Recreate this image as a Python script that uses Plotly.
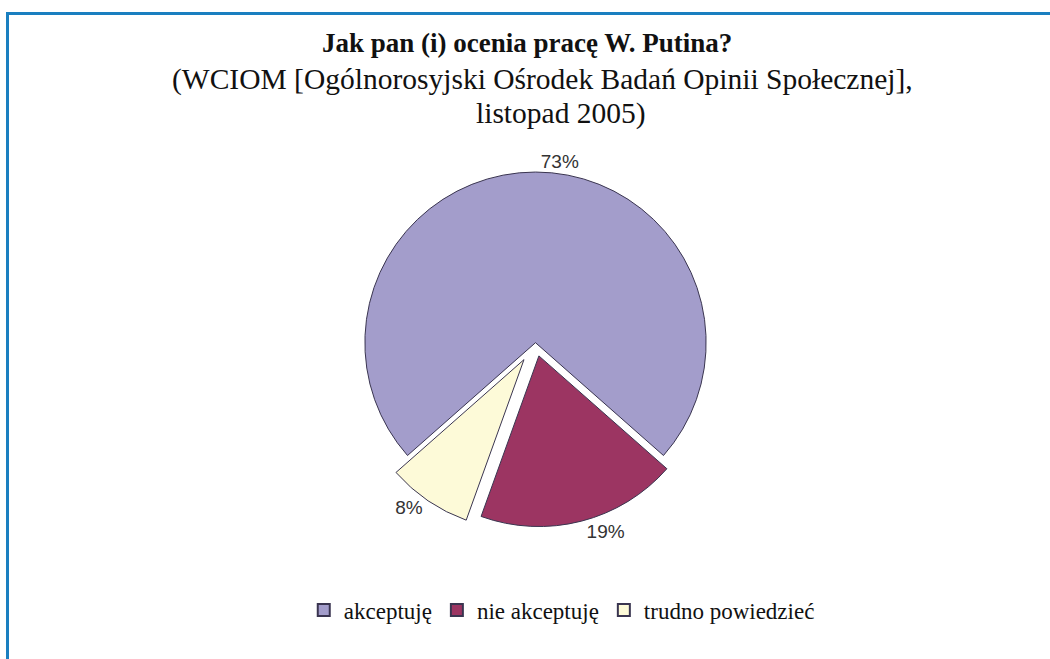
import plotly.graph_objects as go

categories = ["akceptuję", "nie akceptuję", "trudno powiedzieć"]
values = [73, 19, 8]
labels_text = ["73%", "19%", "8%"]
colors = ["#a39dcb", "#9c3562", "#fdfad8"]
pulls = [0, 0.08, 0.12]

fig = go.Figure()
fig.add_trace(go.Pie(
    labels=categories,
    values=values,
    text=labels_text,
    texttemplate="%{text}",
    textinfo="text",
    textposition="outside",
    textfont=dict(family="Liberation Sans, Arial, sans-serif", size=19, color="#333333"),
    marker=dict(colors=colors, line=dict(color="#3a3550", width=1)),
    sort=False,
    direction="clockwise",
    rotation=-131.4,
    pull=pulls,
    domain=dict(x=[0.15, 0.87], y=[0.19, 0.77]),
    hoverinfo="label+percent",
))

serif = "Liberation Serif, Times New Roman, serif"
fig.update_layout(
    width=1050, height=659,
    margin=dict(l=0, r=0, t=0, b=0, autoexpand=False),
    paper_bgcolor="white",
    plot_bgcolor="white",
    showlegend=True,
    legend=dict(
        orientation="h", x=0.535, xanchor="center", y=1 - 610/659, yanchor="middle",
        font=dict(family=serif, size=23, color="#111111"),
        itemsizing="constant",
        traceorder="normal",
    ),
    annotations=[
        dict(text="<b>Jak pan (i) ocenia pracę W. Putina?</b>", x=0.502, y=1 - 43/659,
             xref="paper", yref="paper", showarrow=False, xanchor="center", yanchor="middle",
             font=dict(family=serif, size=27, color="#111111")),
        dict(text="(WCIOM [Ogólnorosyjski Ośrodek Badań Opinii Społecznej],", x=0.517, y=1 - 80/659,
             xref="paper", yref="paper", showarrow=False, xanchor="center", yanchor="middle",
             font=dict(family=serif, size=29.5, color="#111111")),
        dict(text="listopad 2005)", x=0.534, y=1 - 113/659,
             xref="paper", yref="paper", showarrow=False, xanchor="center", yanchor="middle",
             font=dict(family=serif, size=29.5, color="#111111")),
    ],
    shapes=[
        dict(type="line", xref="paper", yref="paper", x0=6/1050, x1=1.0, y0=1 - 13.5/659, y1=1 - 13.5/659,
             line=dict(color="#1a7fc0", width=3)),
        dict(type="line", xref="paper", yref="paper", x0=7.5/1050, x1=7.5/1050, y0=1 - 12/659, y1=0,
             line=dict(color="#1a7fc0", width=3)),
    ],
)

fig.write_html("out.html")
